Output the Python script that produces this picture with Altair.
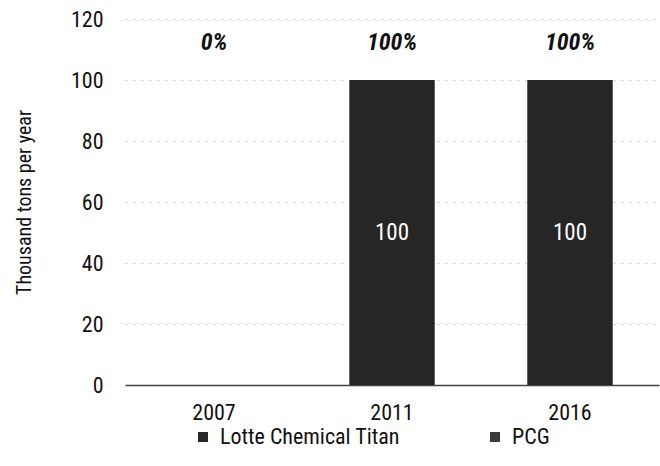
import altair as alt
import pandas as pd

# Capacity by year and producer (thousand tons per year)
years = ["2007", "2011", "2016"]
lotte = [0, 100, 100]
pcg = [0, 0, 0]
producers = ["Lotte Chemical Titan", "PCG"]
colors = ["#262626", "#3b3b3b"]

FONT = "Liberation Sans Narrow, Arial Narrow, Roboto Condensed, Liberation Sans, sans-serif"

rows = []
for i, y in enumerate(years):
    rows.append({"year": y, "producer": producers[0], "value": lotte[i], "order": 0})
    rows.append({"year": y, "producer": producers[1], "value": pcg[i], "order": 1})
df = pd.DataFrame(rows)

# Share of Lotte Chemical Titan in each year's total
totals = [a + b for a, b in zip(lotte, pcg)]
share_df = pd.DataFrame({
    "year": years,
    "share": [f"{round(100 * a / t) if t else 0}%" for a, t in zip(lotte, totals)],
})

# Midpoints for the in-bar value labels
inside = df[df["value"] > 0].copy()
inside["mid"] = inside["value"] / 2

x_enc = alt.X(
    "year:N",
    sort=years,
    title=None,
    scale=alt.Scale(paddingInner=0.52, paddingOuter=0.26),
    axis=alt.Axis(
        labelAngle=0, labelFont=FONT, labelFontSize=22, labelColor="#111",
        labelPadding=17, tickSize=0, ticks=False,
        domainColor="#444", domainWidth=1.5, grid=False,
    ),
)

bars = alt.Chart(df).mark_bar().encode(
    x=x_enc,
    y=alt.Y(
        "value:Q",
        stack="zero",
        title="Thousand tons per year",
        scale=alt.Scale(domain=[0, 120], nice=False),
        axis=alt.Axis(
            values=[0, 20, 40, 60, 80, 100, 120],
            labelFont=FONT, labelFontSize=22, labelColor="#111",
            labelPadding=22, tickSize=0, ticks=False, domain=False,
            grid=True, gridColor="#c4c4c4", gridDash=[2, 6], gridWidth=1,
            titleFont=FONT, titleFontSize=20, titleFontWeight="normal",
            titleColor="#111", titleAngle=270, titleX=-101, titleY=183,
            titleAlign="center", titleBaseline="middle",
        ),
    ),
    color=alt.Color(
        "producer:N",
        sort=producers,
        scale=alt.Scale(domain=producers, range=colors),
        legend=alt.Legend(
            title=None, orient="none", direction="horizontal", columns=2,
            legendX=67, legendY=407, symbolType="square", symbolSize=100,
            symbolStrokeWidth=0, labelFont=FONT, labelFontSize=22,
            labelColor="#111", labelOffset=6, labelLimit=0, columnPadding=84,
        ),
    ),
    order=alt.Order("order:Q"),
)

values = alt.Chart(inside).mark_text(
    font=FONT, fontSize=23, color="white", baseline="middle"
).encode(
    x=alt.X("year:N", sort=years),
    y=alt.Y("mid:Q"),
    text=alt.Text("value:Q"),
)

shares = alt.Chart(share_df).mark_text(
    font=FONT, fontSize=24, fontWeight="bold", fontStyle="italic",
    color="#111", baseline="middle"
).encode(
    x=alt.X("year:N", sort=years),
    y=alt.value(24),
    text="share:N",
)

chart = alt.layer(bars, values, shares).properties(
    width=534,
    height=366,
    autosize=alt.AutoSizeParams(type="none"),
    padding={"left": 125, "top": 19, "right": 1, "bottom": 81},
    background="white",
).configure_view(stroke=None)

chart.save("out.html", embed_options={"renderer": "svg", "actions": False})
